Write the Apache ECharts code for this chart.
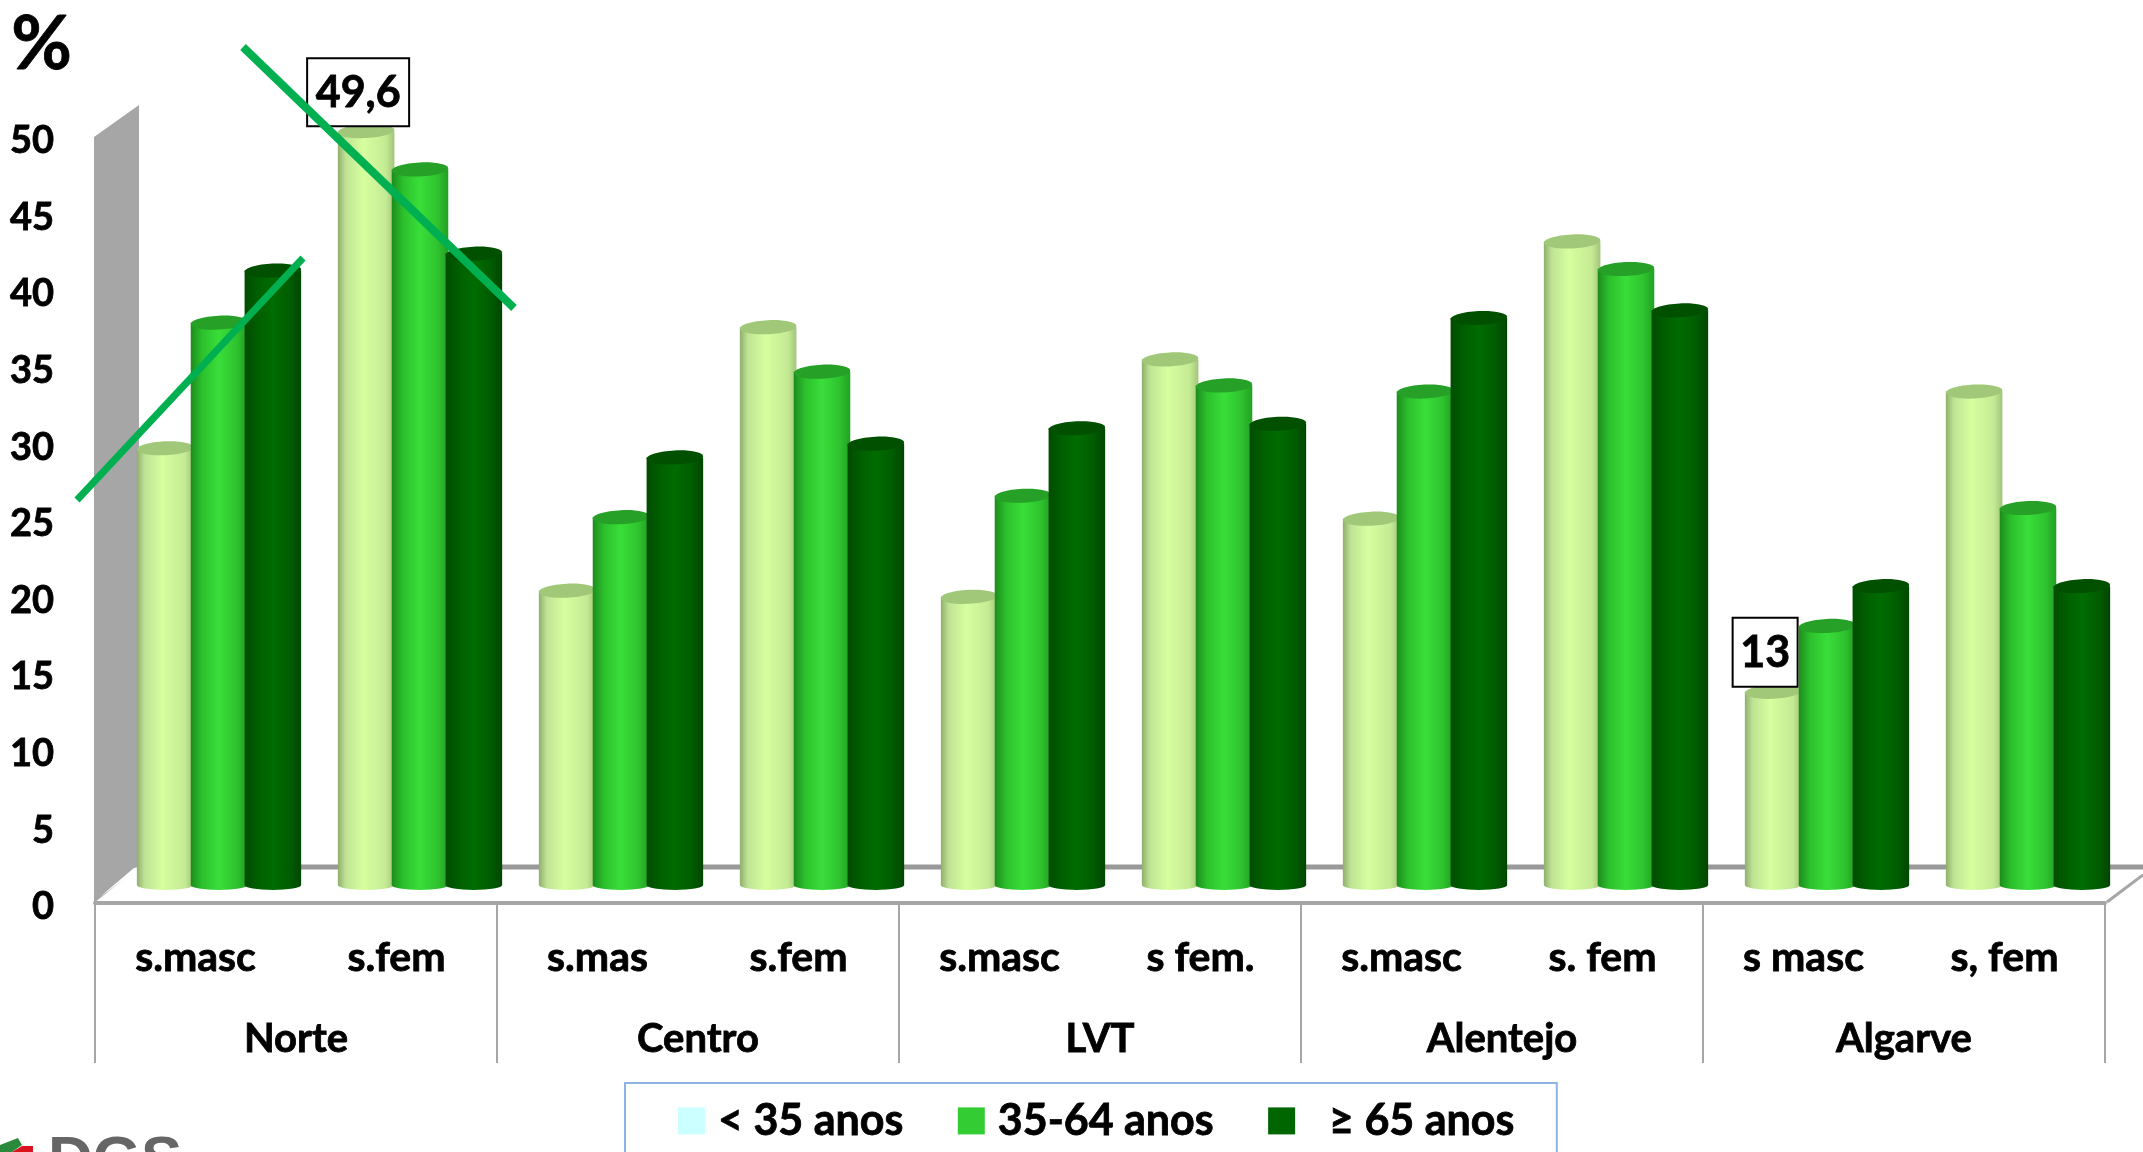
<!DOCTYPE html>
<html><head><meta charset="utf-8">
<style>html,body{margin:0;padding:0;background:#fff;overflow:hidden}#c{width:2143px;height:1152px}</style>
<script src="https://cdn.jsdelivr.net/npm/echarts@6/dist/echarts.min.js"></script>
</head><body><div id="c"></div>
<script>
const groupLabels = ['s.masc','s.fem','s.mas','s.fem','s.masc','s fem.','s.masc','s. fem','s masc','s, fem'];
const regions = ['Norte','Centro','LVT','Alentejo','Algarve'];
const yTicksMax = 50;
const under35 = [28.9,49.6,19.6,36.8,19.2,34.7,24.3,42.4,13,32.6];
const mid3564 = [37.1,47.1,24.4,33.9,25.8,33.0,32.6,40.6,17.3,25.0];
const over65  = [40.5,41.6,28.3,29.2,30.2,30.5,37.4,37.9,19.9,19.9];
const seriesNames = ['< 35 anos','35-64 anos','≥ 65 anos'];
const boxedLabels = {1:'49,6',8:'13'};

const FONT = 'Lato';
const grey = '#a6a6a6';
const heavy = {fontFamily:FONT,fontWeight:'bold',color:'#000',textBorderColor:'#000',textBorderWidth:0.8};
const chart = echarts.init(document.getElementById('c'), null, {renderer:'canvas'});

const ramps = [
  {stops:[[0,'#8fae6c'],[0.14,'#bfe394'],[0.45,'#d6ff9f'],[0.85,'#c4ea93'],[1,'#a3c47c']], cap:'#a0c878'},
  {stops:[[0,'#1c8c1c'],[0.2,'#2cc02c'],[0.5,'#39de39'],[0.8,'#2fc42f'],[1,'#23a023']], cap:'#26a026'},
  {stops:[[0,'#004c00'],[0.25,'#006000'],[0.5,'#006c00'],[0.8,'#005c00'],[1,'#004600']], cap:'#005000'}
];

function cylinder(sIdx){
  return function(params, api){
    const i = api.value(0), v = api.value(1);
    const p = api.coord([i, v]);
    const b = api.coord([i, 0]);
    const step = api.size([1,0])[0] * 0.268;
    const cx = p[0] + 23.5 + (sIdx-1)*step;
    const topY = p[1] - 12, baseY = b[1] - 18;
    const rx = step*0.525, ry = 7;
    const r = ramps[sIdx];
    const grad = new echarts.graphic.LinearGradient(0,0,1,0,r.stops.map(s=>({offset:s[0],color:s[1]})));
    const path = `M${cx-rx} ${topY} L${cx-rx} ${baseY} A${rx} 5 0 0 0 ${cx+rx} ${baseY} L${cx+rx} ${topY} Z`;
    const children = [
      {type:'path', shape:{pathData:path, layout:'cover', x:cx-rx, y:topY, width:2*rx, height:baseY-topY+5}, style:{fill:grad}},
      {type:'ellipse', shape:{cx:0,cy:0,rx:rx,ry:ry}, x:cx, y:topY, rotation:0.045, style:{fill:r.cap}}
    ];
    if (sIdx===0 && boxedLabels[i]) {
      const t = boxedLabels[i];
      const w = t.length>2 ? 102 : 65, h = t.length>2 ? 68 : 69;
      const bx = cx - 8 - w/2, by = topY - 5 - h;
      children.push({type:'rect', z2:50, shape:{x:bx,y:by,width:w,height:h}, style:{fill:'#fff',stroke:'#000',lineWidth:2}});
      children.push({type:'text', z2:51, style:{x:bx+w/2,y:by+h/2+1,text:t,fill:'#000',stroke:'#000',lineWidth:0.8,align:'center',verticalAlign:'middle',font:`bold 43px ${FONT}`}});
    }
    return {type:'group', children};
  };
}

const values = [under35, mid3564, over65];
const swatches = ['#ccffff','#33cc33','#006600'];

chart.setOption({
  animation:false,
  backgroundColor:'#fff',
  textStyle:{fontFamily:FONT},
  grid:{left:95, right:38, top:137, bottom:249, containLabel:false},
  legend:{
    left:625, top:1083, padding:[16,42,60,53], orient:'horizontal', icon:'rect',
    itemWidth:27, itemHeight:27, itemGap:54,
    borderColor:'#8db3e2', borderWidth:2, backgroundColor:'#fff',
    data:seriesNames.map((n,k)=>({name:n, itemStyle:{color:swatches[k]}})),
    formatter:n=> n.startsWith('≥') ? '  '+n : n,
    textStyle:{...heavy,fontSize:43,padding:[0,0,0,8]}
  },
  xAxis:[
    {type:'category', data:groupLabels, position:'bottom',
     axisLine:{show:true,lineStyle:{color:grey,width:4}}, axisTick:{show:false},
     axisLabel:{...heavy,interval:0,margin:34,fontSize:41}},
    {type:'category', data:regions, position:'bottom',
     axisLine:{show:false}, axisTick:{show:true,length:160,lineStyle:{color:grey,width:2}},
     axisLabel:{...heavy,interval:0,margin:116,fontSize:40}}
  ],
  yAxis:{type:'value', min:0, max:yTicksMax, interval:5,
    name:'%', nameLocation:'end', nameGap:55,
    nameTextStyle:{...heavy,fontSize:74,align:'right',padding:[0,23,0,0]},
    axisLine:{show:false}, axisTick:{show:false}, splitLine:{show:false},
    axisLabel:{margin:41,formatter:'{t|{value}}',
      rich:{t:{...heavy,fontSize:38,padding:[8,0,0,0]}}}},
  series:seriesNames.map((n,k)=>({
    name:n, type:'custom', xAxisIndex:0, yAxisIndex:0, z:3+k, clip:false,
    itemStyle:{color:swatches[k]},
    encode:{x:0,y:1}, renderItem:cylinder(k),
    data:values[k].map((v,i)=>[i,v])
  })),
  graphic:[
    {type:'polygon', z:-1, shape:{points:[[94,137],[139,105],[139,867],[94,903]]}, style:{fill:grey}},
    {type:'polygon', z:-1, shape:{points:[[100,897],[134,872],[139,867],[134,868],[108,890]]}, style:{fill:'#fff'}},
    {type:'line', z:-1, shape:{x1:139,y1:867,x2:2143,y2:867}, style:{stroke:'#999999',lineWidth:5}},
    {type:'line', z:-1, shape:{x1:2107,y1:902,x2:2143,y2:875}, style:{stroke:grey,lineWidth:3}},
    {type:'line', z:60, shape:{x1:77,y1:500,x2:303,y2:258}, style:{stroke:'#00b050',lineWidth:7}},
    {type:'line', z:60, shape:{x1:243,y1:47,x2:514,y2:308}, style:{stroke:'#00b050',lineWidth:8}},
    {type:'polygon', z:5, shape:{points:[[0,1145],[18,1138],[22,1145],[12,1152],[0,1152]]}, style:{fill:'#2a8a3c'}},
    {type:'polygon', z:5, shape:{points:[[12,1152],[22,1146],[33,1146],[33,1152]]}, style:{fill:'#d8141e'}},
    {type:'text', z:5, style:{x:48,y:1131,text:'DGS',fill:'#666666',font:'bold 62px "Liberation Sans"'}}
  ]
});
</script></body></html>
